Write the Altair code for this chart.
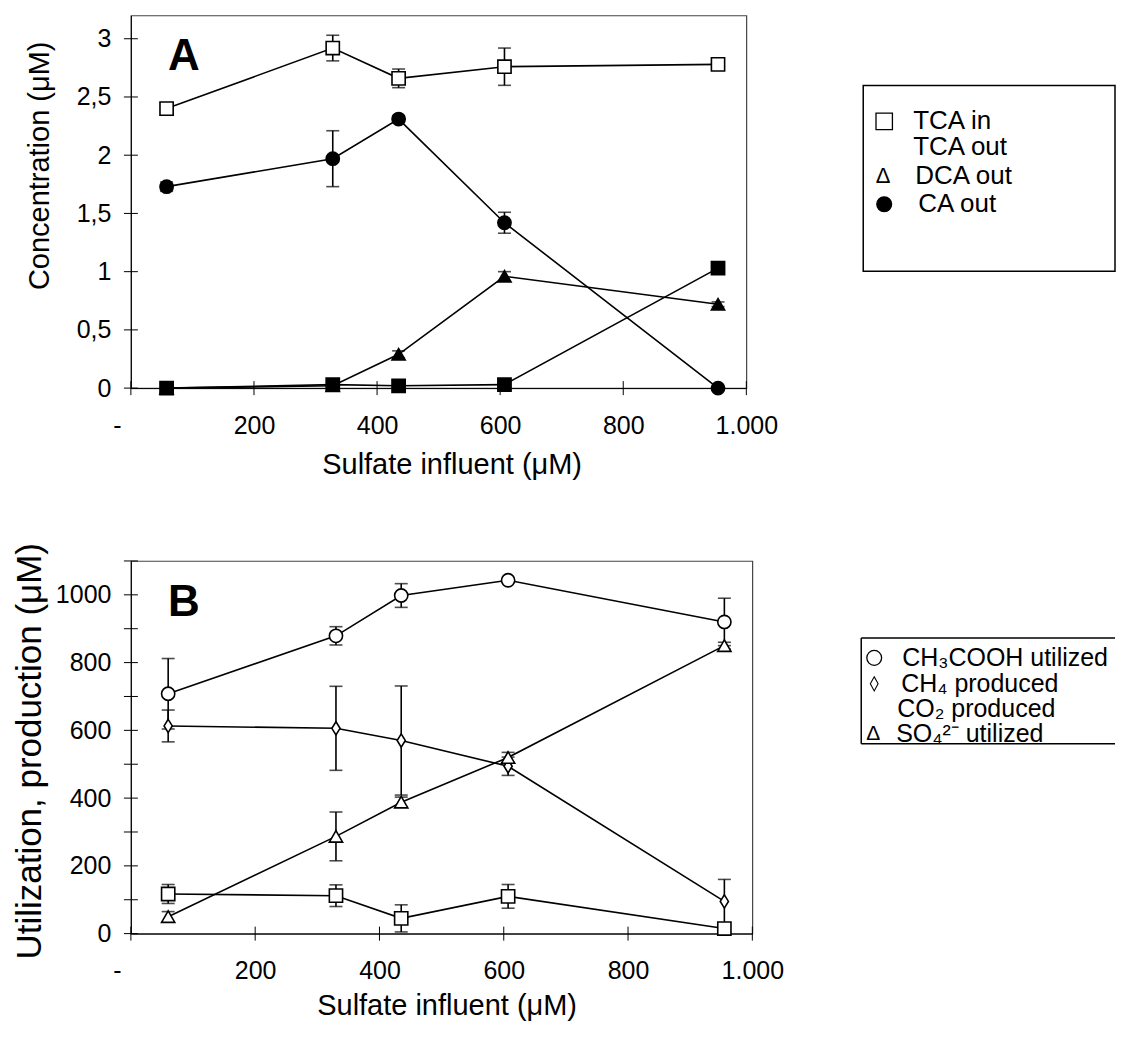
import altair as alt
import pandas as pd

FONT = "Liberation Sans"

# ---------------- data: panel A ----------------
a_x = [58, 328, 435, 607, 954]
a_series = ["TCA in", "TCA out", "DCA out", "CA out"]
a_tca_in = [2.40, 2.92, 2.66, 2.76, 2.78]
a_tca_in_err = [0.05, 0.11, 0.08, 0.16, 0.01]
a_tca_out = [0.00, 0.03, 0.02, 0.03, 1.03]
a_tca_out_err = [0.00, 0.01, 0.01, 0.01, 0.02]
a_dca_out = [0.00, 0.02, 0.29, 0.96, 0.72]
a_dca_out_err = [0.00, 0.01, 0.03, 0.04, 0.02]
a_ca_out = [1.73, 1.97, 2.31, 1.42, 0.00]
a_ca_out_err = [0.04, 0.24, 0.03, 0.09, 0.00]
a_y_labels = [0, 0.5, 1, 1.5, 2, 2.5, 3]
a_y_ticks = [0, 0.5, 1, 1.5, 2, 2.5, 3]

# ---------------- data: panel B ----------------
b_x = [60, 330, 435, 607, 955]
b_series = ["CH3COOH utilized", "CH4 produced", "CO2 produced", "SO4 utilized"]
b_ch3cooh = [708, 879, 998, 1043, 920]
b_ch3cooh_err = [104, 27, 35, 4, 70]
b_ch4 = [613, 606, 570, 494, 95]
b_ch4_err = [47, 124, 161, 27, 65]
b_co2 = [117, 112, 45, 110, 15]
b_co2_err = [28, 32, 40, 35, 10]
b_so4 = [50, 287, 388, 520, 850]
b_so4_err = [15, 72, 15, 15, 10]
b_y_labels = [0, 200, 400, 600, 800, 1000]
b_y_ticks = [0, 100, 200, 300, 400, 500, 600, 700, 800, 900, 1000, 1100]

x_ticks = [0, 200, 400, 600, 800, 1000]

a_legend_labels = ["TCA in", "TCA out", "DCA out", "CA out"]
b_legend_labels = ["CH₃COOH utilized", "CH₄ produced", "CO₂ produced", "SO₄²⁻ utilized"]

# ---------------- styles ----------------
DIAMOND = "M0,-1L0.62,0L0,1L-0.62,0Z"
LOZENGE = "M0,-1L0.55,0L0,1L-0.55,0Z"
a_markers = {"TCA in": ("square", "white"), "TCA out": ("square", "black"),
             "DCA out": ("triangle-up", "black"), "CA out": ("circle", "black")}
b_markers = {"CH3COOH utilized": ("circle", "white"), "CH4 produced": (DIAMOND, "white"),
             "CO2 produced": ("square", "white"), "SO4 utilized": ("triangle-up", "white")}

X_LABEL_EXPR = ("datum.value == 0 ? '-' : datum.value == 1000 ? '1.000' : "
                "format(datum.value, 'd')")


def long_df(xs, names, vals, errs):
    rows = []
    for name, v, e in zip(names, vals, errs):
        for xi, yi, ei in zip(xs, v, e):
            rows.append({"x": xi, "y": yi, "err": ei, "lo": yi - ei, "hi": yi + ei,
                         "series": name})
    return pd.DataFrame(rows)


one = pd.DataFrame({"a": [0]})


def text_layer(txt, px, py, size=24, align="left", weight="normal"):
    return alt.Chart(pd.DataFrame({"t": [txt]})).mark_text(
        font=FONT, fontSize=size, align=align, baseline="middle", fontWeight=weight,
        color="black").encode(text="t:N", x=alt.value(px), y=alt.value(py))


def sym_layer(shape, fill, px, py, size, sw=1.3):
    return alt.Chart(one).mark_point(shape=shape, filled=True, fill=fill, stroke="black",
                                     strokeWidth=sw, size=size, opacity=1).encode(
        x=alt.value(px), y=alt.value(py))


def build_panel(df, markers, W, H, ydom, ylabels, yticks, ylabel_expr, ytitle,
                ytitle_x, ytitle_y, ytitle_size, xtitle_x, xtitle_pad, letter, legend_layers):
    xaxis = alt.Axis(values=x_ticks, ticks=False, grid=False, domainColor="black",
                     labelExpr=X_LABEL_EXPR, labelFlush=False,
                     labelOffset=alt.condition("datum.value == 0", alt.value(-14), alt.value(0)),
                     labelPadding=25, labelFontSize=25, labelFont=FONT, labelColor="black",
                     title="Sulfate influent (μM)", titleFont=FONT, titleFontSize=29,
                     titleFontWeight="normal", titleColor="black", titlePadding=xtitle_pad,
                     titleX=xtitle_x, titleAlign="center")
    yaxis = alt.Axis(values=ylabels, ticks=False, grid=False, domainColor="black",
                     labelExpr=ylabel_expr, labelPadding=20, labelFontSize=25, labelFont=FONT,
                     labelFlush=False, labelColor="black", title=ytitle, titleFont=FONT,
                     titleFontSize=ytitle_size, titleFontWeight="normal", titleColor="black",
                     titleX=ytitle_x, titleY=ytitle_y, titleAngle=270, titleBaseline="middle",
                     titleAlign="center")
    xenc = alt.X("x:Q", scale=alt.Scale(domain=[0, 1000], nice=False, zero=False), axis=xaxis)
    yscale = alt.Scale(domain=ydom, nice=False, zero=False)
    yenc = alt.Y("y:Q", scale=yscale, axis=yaxis)

    base = alt.Chart(df)
    lines = base.mark_line(color="black", strokeWidth=1.6).encode(
        x=xenc, y=yenc, detail="series:N")
    eb = df[df["err"] > 0]
    ebase = alt.Chart(eb)
    rules = ebase.mark_rule(color="black", strokeWidth=1.6).encode(
        x=xenc, y=alt.Y("lo:Q", scale=yscale, axis=yaxis), y2="hi:Q")
    cap_lo = ebase.mark_tick(orient="horizontal", color="black", size=13, thickness=1.6).encode(
        x=xenc, y=alt.Y("lo:Q", scale=yscale, axis=yaxis))
    cap_hi = ebase.mark_tick(orient="horizontal", color="black", size=13, thickness=1.6).encode(
        x=xenc, y=alt.Y("hi:Q", scale=yscale, axis=yaxis))

    pts = []
    for name, (shape, fill) in markers.items():
        sub = df[df["series"] == name]
        pts.append(alt.Chart(sub).mark_point(shape=shape, filled=True, fill=fill, stroke="black",
                                             strokeWidth=1.6, size=175, opacity=1).encode(
            x=xenc, y=yenc))

    ytick_layer = alt.Chart(pd.DataFrame({"y": yticks})).mark_rule(color="black", strokeWidth=1).encode(
        y=yenc, x=alt.value(-7), x2=alt.value(7))
    xtick_layer = alt.Chart(pd.DataFrame({"x": x_ticks})).mark_rule(color="black", strokeWidth=1).encode(
        x=xenc, y=alt.value(H - 7), y2=alt.value(H + 7))

    letter_layer = text_layer(letter, 53, 42, size=44, align="center", weight="bold")

    return alt.layer(lines, rules, cap_lo, cap_hi, *pts, ytick_layer, xtick_layer,
                     letter_layer, *legend_layers).properties(width=W, height=H)


# ---------------- legends ----------------
a_leg = [alt.Chart(one).mark_rect(fillOpacity=0, stroke="black", strokeWidth=1.5).encode(
    x=alt.value(733), x2=alt.value(985), y=alt.value(70), y2=alt.value(256))]
a_rows_y = [106, 132, 161, 189]
a_label_x = [783, 783, 785, 788]
a_leg.append(sym_layer("square", "white", 754, a_rows_y[0], 270))
a_leg.append(text_layer("Δ", 753, a_rows_y[2], size=22, align="center"))
a_leg.append(sym_layer("circle", "black", 754, a_rows_y[3], 220))
for lab, yy, lx in zip(a_legend_labels, a_rows_y, a_label_x):
    a_leg.append(text_layer(lab, lx, yy, size=26))

b_leg = [
    alt.Chart(one).mark_rule(color="black", strokeWidth=1.5).encode(
        x=alt.value(731), x2=alt.value(985), y=alt.value(77)),
    alt.Chart(one).mark_rule(color="black", strokeWidth=1.5).encode(
        x=alt.value(731), x2=alt.value(985), y=alt.value(183)),
    alt.Chart(one).mark_rule(color="black", strokeWidth=1.5).encode(
        x=alt.value(731), y=alt.value(77), y2=alt.value(183)),
]
b_rows_y = [97, 123, 148, 173]
b_label_x = [772, 771, 767, 766]
b_leg.append(sym_layer("circle", "white", 744, b_rows_y[0], 220))
b_leg.append(sym_layer(LOZENGE, "white", 744, b_rows_y[1], 200, sw=1.1))
b_leg.append(text_layer("Δ", 743, b_rows_y[3], size=21, align="center"))
for lab, yy, lx in zip(b_legend_labels, b_rows_y, b_label_x):
    b_leg.append(text_layer(lab, lx, yy, size=25))

# ---------------- panels ----------------
df_a = long_df(a_x, a_series, [a_tca_in, a_tca_out, a_dca_out, a_ca_out],
               [a_tca_in_err, a_tca_out_err, a_dca_out_err, a_ca_out_err])
df_b = long_df(b_x, b_series, [b_ch3cooh, b_ch4, b_co2, b_so4],
               [b_ch3cooh_err, b_ch4_err, b_co2_err, b_so4_err])

panel_a = build_panel(df_a, a_markers, 616, 373, [0, 3.2], a_y_labels, a_y_ticks,
                      "replace(format(datum.value, '~g'), '.', ',')",
                      "Concentration (μM)", -91, 150, 29, 321, 12, "A", a_leg)
panel_b = build_panel(df_b, b_markers, 622, 373, [0, 1100], b_y_labels, b_y_ticks,
                      "format(datum.value, 'd')",
                      "Utilization, production (μM)", -101, 190, 35, 316, 8, "B", b_leg)

chart = alt.vconcat(panel_a, panel_b, spacing=173, bounds="flush").configure_view(
    stroke="#444", strokeWidth=1.2
).properties(padding={"left": 4, "top": 6, "right": 0, "bottom": 5}, background="white")

chart.save("out.html", embed_options={"renderer": "svg", "actions": False})
